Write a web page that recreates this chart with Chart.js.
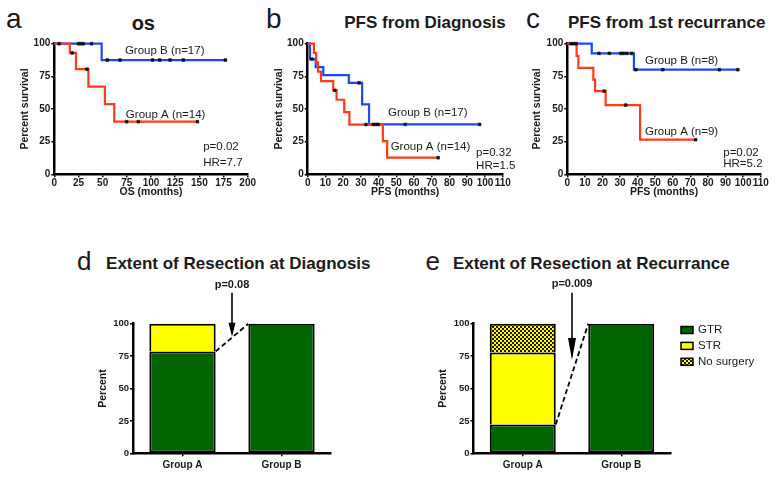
<!DOCTYPE html>
<html><head><meta charset="utf-8">
<script src="https://cdn.jsdelivr.net/npm/chart.js@4.4.0/dist/chart.umd.min.js"></script>
<style>
body{margin:0;background:#fff;width:779px;height:478px;overflow:hidden;position:relative;font-family:"Liberation Sans",Arial,sans-serif;}
canvas{position:absolute;}
.t{position:absolute;white-space:nowrap;line-height:1;color:#1a1a1a;}
.c{transform:translateX(-50%);}
.b{font-weight:bold;}
</style></head><body>
<div class="t" style="left:6px;top:5.3px;font-size:28px">a</div>
<div class="t c b" style="left:143.3px;top:12.5px;font-size:20px">os</div>
<div class="t" style="left:266px;top:4.6px;font-size:28px">b</div>
<div class="t c b" style="left:425px;top:13.9px;font-size:17px">PFS from Diagnosis</div>
<div class="t" style="left:526px;top:4.6px;font-size:28px">c</div>
<div class="t c b" style="left:666.7px;top:13.9px;font-size:17px">PFS from 1st recurrance</div>
<div class="t" style="left:77px;top:248px;font-size:26px">d</div>
<div class="t c b" style="left:238.3px;top:254.6px;font-size:17px">Extent of Resection at Diagnosis</div>
<div class="t" style="left:425.5px;top:248px;font-size:26px">e</div>
<div class="t c b" style="left:591.3px;top:254.9px;font-size:17px">Extent of Resection at Recurrance</div>

<canvas id="cA" width="260" height="205" style="left:0;top:0"></canvas>
<canvas id="cB" width="260" height="205" style="left:255px;top:0"></canvas>
<canvas id="cC" width="264" height="205" style="left:515px;top:0"></canvas>
<canvas id="cD" width="290" height="208" style="left:60px;top:270px"></canvas>
<canvas id="cE" width="379" height="208" style="left:400px;top:270px"></canvas>

<script>
// ---------------- DATA ----------------
// Panel a: OS (months)
const osTicks = [0, 25, 50, 75, 100, 125, 150, 175, 200];
const osA_time = [0, 16, 22.4, 35.3, 52.3, 62];
const osA_surv = [100, 92.9, 80.5, 67.1, 53.7, 40.3];
const osA_cens = [18.5, 33.8, 74.8, 86.9, 148];
const osB_time = [0, 49];
const osB_surv = [100, 87.5];
const osB_cens = [5, 25, 27.5, 30, 38.5, 54.8, 68, 101.7, 109, 119.7, 133.4, 177];

// Panel b: PFS from diagnosis
const pfsTicks = [0, 10, 20, 30, 40, 50, 60, 70, 80, 90, 100, 110];
const pfsA_time = [0, 3.5, 4.8, 5.8, 7.5, 14.4, 16.3, 20.6, 23.5, 42.4, 44.8];
const pfsA_surv = [100, 92.9, 85.7, 78.6, 71.4, 64.3, 57.1, 47.6, 38.1, 25.4, 12.7];
const pfsA_cens = [15.3, 32.8, 73.6];
const pfsB_time = [0, 1.3, 4.5, 8.8, 23.2, 30.7, 34.6];
const pfsB_surv = [100, 88.2, 82, 76, 70, 53.5, 38.2];
const pfsB_cens = [2.4, 29, 37, 38.3, 39.7, 55, 97];

// Panel c: PFS from 1st recurrence
const recA_time = [0, 5.3, 6.3, 14.8, 15.8, 21.8, 41.4];
const recA_surv = [100, 90.6, 81.5, 72.5, 63.7, 53, 26.5];
const recA_cens = [21, 33.2, 73];
const recB_time = [0, 13.9, 37.9];
const recB_surv = [100, 92.6, 80.1];
const recB_cens = [2, 3.5, 5, 18, 23.9, 30.4, 31.9, 33.8, 36.6, 39, 54.3, 86.5, 97];

// Panels d/e: extent of resection (percent)
const groups = ['Group A', 'Group B'];
const pctTicks = [0, 25, 50, 75, 100];
const diagGTR = [78.6, 100];
const diagSTR = [21.4, null];
const recGTR = [22.2, 100];
const recSTR = [55.6, null];
const recNone = [22.2, null];

// ---------------- STYLE ----------------
const FAM = '"Liberation Sans", Arial, sans-serif';
const RED = '#ff3a14', BLUE = '#1f46ff', GREEN = '#006400', YELLOW = '#ffff00', INK = '#1a1a1a';

function checker() {
  const c = document.createElement('canvas'); c.width = 4; c.height = 4;
  const g = c.getContext('2d');
  g.fillStyle = YELLOW; g.fillRect(0, 0, 4, 4);
  g.fillStyle = '#1a1a00'; g.fillRect(0, 0, 2, 2); g.fillRect(2, 2, 2, 2);
  return g.createPattern(c, 'repeat');
}

function stepAt(times, surv, t) {
  let s = surv[0];
  for (let i = 0; i < times.length; i++) if (times[i] <= t) s = surv[i];
  return s;
}
function curve(times, surv, cens) {
  const pts = times.map((t, i) => ({x: t, y: surv[i]}));
  const end = Math.max(...cens);
  if (end > times[times.length - 1]) pts.push({x: end, y: surv[surv.length - 1]});
  return pts;
}
function marks(times, surv, cens) {
  return cens.map(t => ({x: t, y: stepAt(times, surv, t)}));
}

// ---------------- PLUGINS ----------------
const notesPlugin = {
  id: 'notes',
  afterDraw(chart, args, o) {
    if (!o || !o.items) return;
    const {ctx} = chart, x = chart.scales.x, y = chart.scales.y;
    ctx.save();
    ctx.fillStyle = INK; ctx.textAlign = 'left'; ctx.textBaseline = 'middle';
    ctx.font = '11.5px ' + FAM;
    for (const it of o.items) ctx.fillText(it.text, x.getPixelForValue(it.x), y.getPixelForValue(it.y));
    ctx.restore();
  }
};

const pvalPlugin = {
  id: 'pval',
  afterDraw(chart, args, o) {
    if (!o || !o.text) return;
    const {ctx} = chart, y = chart.scales.y;
    const m = chart.getDatasetMeta(0);
    const a = m.data[0], b = m.data[1];
    const x1 = a.x + a.width / 2, y1 = a.y, x2 = b.x - b.width / 2, y2 = b.y;
    ctx.save();
    ctx.strokeStyle = '#000'; ctx.fillStyle = '#000';
    ctx.lineWidth = 1.8; ctx.setLineDash([5, 3]);
    ctx.beginPath(); ctx.moveTo(x1, y1); ctx.lineTo(x2, y2); ctx.stroke();
    ctx.setLineDash([]);
    const ax = (x1 + x2) / 2;
    const top = y.getPixelForValue(o.arrowTop), tip = y.getPixelForValue(o.arrowTip);
    ctx.lineWidth = 1.6;
    ctx.beginPath(); ctx.moveTo(ax, top); ctx.lineTo(ax, tip - o.headLen + 1); ctx.stroke();
    ctx.beginPath();
    ctx.moveTo(ax - o.headW / 2, tip - o.headLen); ctx.lineTo(ax + o.headW / 2, tip - o.headLen);
    ctx.lineTo(ax, tip); ctx.closePath(); ctx.fill();
    ctx.font = 'bold 11px ' + FAM; ctx.textAlign = 'center'; ctx.textBaseline = 'middle';
    ctx.fillStyle = INK;
    ctx.fillText(o.text, ax, y.getPixelForValue(o.labelY));
    ctx.restore();
  }
};

const boxLegendPlugin = {
  id: 'boxLegend',
  afterDraw(chart, args, o) {
    if (!o || o.dx == null) return;
    const {ctx, chartArea} = chart;
    ctx.save();
    chart.data.datasets.forEach((ds, i) => {
      const bx = chartArea.right + o.dx, cy = chartArea.top + o.dy + i * o.rowH;
      ctx.fillStyle = ds.backgroundColor;
      ctx.fillRect(bx, cy - o.boxH / 2, o.boxW, o.boxH);
      ctx.strokeStyle = '#000'; ctx.lineWidth = 1.5;
      ctx.strokeRect(bx, cy - o.boxH / 2, o.boxW, o.boxH);
      ctx.fillStyle = INK; ctx.font = '11.5px ' + FAM;
      ctx.textAlign = 'left'; ctx.textBaseline = 'middle';
      ctx.fillText(ds.label, bx + o.boxW + o.gap, cy);
    });
    ctx.restore();
  }
};

// ---------------- CHART BUILDERS ----------------
function axisCommon() {
  return {
    border: {display: true, color: '#000', width: 2.5},
    grid: {display: true, drawOnChartArea: false, drawTicks: true, tickLength: 3, color: '#000', lineWidth: 1.5},
  };
}

function kmChart(id, p) {
  const markStyle = {showLine: false, pointStyle: 'rect', pointRadius: 2, pointBackgroundColor: '#111',
                     pointBorderColor: '#111', pointBorderWidth: 0.5, clip: false};
  const ds = [
    Object.assign({data: marks(p.aT, p.aS, p.aC)}, markStyle),
    Object.assign({data: marks(p.bT, p.bS, p.bC)}, markStyle),
    {data: curve(p.aT, p.aS, p.aC), borderColor: RED, borderWidth: 2.2, stepped: 'before', pointRadius: 0, fill: false, clip: false},
    {data: curve(p.bT, p.bS, p.bC), borderColor: BLUE, borderWidth: 2.2, stepped: 'before', pointRadius: 0, fill: false, clip: false},
  ];
  return new Chart(document.getElementById(id), {
    type: 'line',
    data: {datasets: ds},
    plugins: [notesPlugin],
    options: {
      responsive: false, animation: false, events: [],
      layout: {padding: {left: 0, top: 43.7, right: p.padR, bottom: 0}},
      plugins: {legend: {display: false}, tooltip: {enabled: false}, notes: {items: p.notes}},
      scales: {
        x: Object.assign(axisCommon(), {
          type: 'linear', min: 0, max: p.xTicks[p.xTicks.length - 1],
          afterBuildTicks: s => { s.ticks = p.xTicks.map(v => ({value: v})); },
          ticks: {font: {family: FAM, size: 10, weight: 'bold'}, color: INK, padding: 0, maxRotation: 0, minRotation: 0, autoSkip: false},
          title: {display: true, text: p.xTitle, color: INK, font: {family: FAM, size: 10.5, weight: 'bold'}, padding: {top: 0, bottom: 7}},
          afterFit: s => { s.height = 30.7; }
        }),
        y: Object.assign(axisCommon(), {
          type: 'linear', min: 0, max: 100,
          afterBuildTicks: s => { s.ticks = pctTicks.map(v => ({value: v})); },
          ticks: {font: {family: FAM, size: 10, weight: 'bold'}, color: INK, padding: 1},
          title: {display: true, text: 'Percent survival', color: INK, font: {family: FAM, size: 10.5, weight: 'bold'}, padding: {top: p.yTitlePad, bottom: 0}},
          afterFit: s => { s.width = p.yW; }
        })
      }
    }
  });
}

function barChart(id, p) {
  return new Chart(document.getElementById(id), {
    type: 'bar',
    data: {labels: groups, datasets: p.datasets},
    plugins: [pvalPlugin, boxLegendPlugin],
    options: {
      responsive: false, animation: false, events: [],
      layout: {padding: {left: 0, top: 53.7, right: p.padR, bottom: 0}},
      datasets: {bar: {categoryPercentage: 1, barPercentage: 0.67}},
      plugins: {legend: {display: false}, tooltip: {enabled: false}, pval: p.pval, boxLegend: p.legend || {}},
      scales: {
        x: Object.assign(axisCommon(), {
          stacked: true,
          grid: {display: true, drawOnChartArea: false, drawTicks: true, tickLength: 3, color: '#000', lineWidth: 1.5, offset: false},
          ticks: {font: {family: FAM, size: 10, weight: 'bold'}, color: INK, padding: 2.7, maxRotation: 0, minRotation: 0},
          afterFit: s => { s.height = 24.7; }
        }),
        y: Object.assign(axisCommon(), {
          stacked: true, min: 0, max: 100,
          afterBuildTicks: s => { s.ticks = pctTicks.map(v => ({value: v})); },
          ticks: {font: {family: FAM, size: 9.5, weight: 'bold'}, color: INK, padding: 1},
          title: {display: true, text: 'Percent', color: INK, font: {family: FAM, size: 10.5, weight: 'bold'}, padding: {top: 37, bottom: 0}},
          afterFit: s => { s.width = p.yW; }
        })
      }
    }
  });
}

function barDs(label, data, color, skip) {
  return {label, data, backgroundColor: color, borderColor: '#000', borderWidth: 2,
          borderSkipped: skip, clip: false};
}

// ---------------- RENDER ----------------
kmChart('cA', {
  aT: osA_time, aS: osA_surv, aC: osA_cens, bT: osB_time, bS: osB_surv, bC: osB_cens,
  xTicks: osTicks, xTitle: 'OS (months)', yW: 54.3, padR: 12.3, yTitlePad: 18.7,
  notes: [
    {text: 'Group B (n=17)', x: 73, y: 94.6},
    {text: 'Group A (n=14)', x: 74, y: 45.4},
    {text: 'p=0.02', x: 154, y: 21.1},
    {text: 'HR=7.7', x: 154, y: 8.9}
  ]
});
kmChart('cB', {
  aT: pfsA_time, aS: pfsA_surv, aC: pfsA_cens, bT: pfsB_time, bS: pfsB_surv, bC: pfsB_cens,
  xTicks: pfsTicks, xTitle: 'PFS (months)', yW: 52.7, padR: 12.3, yTitlePad: 18,
  notes: [
    {text: 'Group B (n=17)', x: 45.3, y: 46.7},
    {text: 'Group A (n=14)', x: 46.8, y: 21.1},
    {text: 'p=0.32', x: 95, y: 16.1},
    {text: 'HR=1.5', x: 95, y: 6.6}
  ]
});
kmChart('cC', {
  aT: recA_time, aS: recA_surv, aC: recA_cens, bT: recB_time, bS: recB_surv, bC: recB_cens,
  xTicks: pfsTicks, xTitle: 'PFS (months)', yW: 52.3, padR: 18.3, yTitlePad: 15.4,
  notes: [
    {text: 'Group B (n=8)', x: 44.2, y: 86.8},
    {text: 'Group A (n=9)', x: 44.2, y: 32.6},
    {text: 'p=0.02', x: 88.7, y: 16.5},
    {text: 'HR=5.2', x: 88.7, y: 7.7}
  ]
});

const pat = checker();
barChart('cD', {
  yW: 73, padR: 19,
  datasets: [barDs('GTR', diagGTR, GREEN, false), barDs('STR', diagSTR, YELLOW, 'start')],
  pval: {text: 'p=0.08', labelY: 129.9, arrowTop: 123.9, arrowTip: 90, headLen: 14, headW: 7}
});
barChart('cE', {
  yW: 73.5, padR: 108.5,
  datasets: [barDs('GTR', recGTR, GREEN, false), barDs('STR', recSTR, YELLOW, 'start'), barDs('No surgery', recNone, pat, 'start')],
  pval: {text: 'p=0.009', labelY: 130.4, arrowTop: 123.9, arrowTip: 72, headLen: 22, headW: 8},
  legend: {dx: 10.5, dy: 6.3, rowH: 15.9, boxW: 12, boxH: 7, gap: 5}
});
</script>
</body></html>
